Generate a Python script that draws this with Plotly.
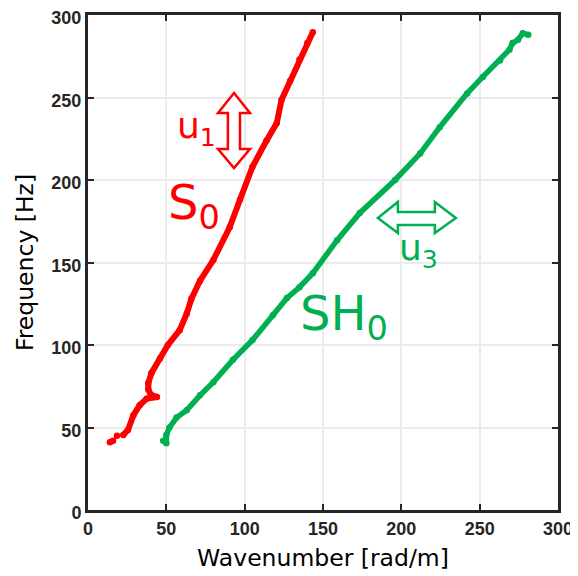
import plotly.graph_objects as go

# S0 mode (red) — wavenumber [rad/m], frequency [Hz]; None marks gaps
s0_k = [14, 16, None, 18.5, None, 22.5, 25.5, 29, 33, 37.5, 41, 44, 40, 38.5, 38.5, 40.5,
        46, 51, 58.5, 63, 66, 71.5, 80, 90.5, 97, 105, 114, 120.5, 123.5, 129, 135, 140, 143.5]
s0_f = [41, 42, None, 45, None, 45.5, 48.5, 57.5, 63.5, 67.5, 68.5, 68.5, 70, 73, 77, 83,
        92, 100, 109, 119, 128, 139, 151.5, 171.5, 188, 208, 224, 234.5, 248.5, 260, 273, 283, 289.5]

# SH0 mode (green)
sh0_k = [48, 50, 50, 52, 56.5, 63, 71.5, 80, 92.5, 105, 118, 127, 135, 143.5, 159, 173.5,
         196, 212, 224.5, 242, 252, 263, 269, 271, 274.5, 277.5, 281]
sh0_f = [42, 40.5, 45.5, 50, 56, 60.5, 69.5, 77.5, 91, 103, 118, 128.5, 135, 143.5, 163.5, 180,
         200, 216, 232, 252.5, 262.5, 272.5, 279, 283, 285, 289, 288]

x_ticks = [0, 50, 100, 150, 200, 250, 300]
y_ticks = [0, 50, 100, 150, 200, 250, 300]

RED = "#ff0000"
GREEN = "#00b050"
AX = "#262626"

fig = go.Figure()
fig.add_trace(go.Scatter(x=s0_k, y=s0_f, mode="lines+markers",
                         line=dict(color=RED, width=6), marker=dict(color=RED, size=6.5),
                         connectgaps=False, showlegend=False))
fig.add_trace(go.Scatter(x=sh0_k, y=sh0_f, mode="lines+markers",
                         line=dict(color=GREEN, width=5.5), marker=dict(color=GREEN, size=6.5),
                         showlegend=False))

# hollow double arrows
u1_path = ("M 93.2 252.7 L 103.4 240.6 L 97 240.6 L 97 218.8 L 103.4 218.8 L 93.2 207.3 "
           "L 83 218.8 L 89.3 218.8 L 89.3 240.6 L 83 240.6 Z")
u3_path = ("M 185 177 L 197.8 186.7 L 197.8 180.6 L 221.4 180.6 L 221.4 186.7 L 234.8 177 "
           "L 221.4 167.9 L 221.4 172.7 L 197.8 172.7 L 197.8 167.9 Z")
fig.add_shape(type="path", path=u1_path, line=dict(color=RED, width=2.5), fillcolor="white",
              xref="x", yref="y", layer="above")
fig.add_shape(type="path", path=u3_path, line=dict(color=GREEN, width=2.5), fillcolor="white",
              xref="x", yref="y", layer="above")

tf = "DejaVu Sans"
fig.add_annotation(x=67.5, y=184.5, text="S<sub>0</sub>", showarrow=False,
                   font=dict(family=tf, size=48, color=RED))
fig.add_annotation(x=69, y=231, text="u<sub>1</sub>", showarrow=False,
                   font=dict(family=tf, size=36, color=RED))
fig.add_annotation(x=163.5, y=117.5, text="SH<sub>0</sub>", showarrow=False,
                   font=dict(family=tf, size=48, color=GREEN))
fig.add_annotation(x=211, y=157.5, text="u<sub>3</sub>", showarrow=False,
                   font=dict(family=tf, size=36, color=GREEN))

axis_common = dict(showline=True, linecolor=AX, linewidth=3, mirror="ticks",
                   ticks="inside", ticklen=6, tickwidth=2, tickcolor=AX,
                   showgrid=True, gridcolor="#ebebeb", gridwidth=2, zeroline=False,
                   automargin=False, ticklabeloverflow="allow",
                   tickfont=dict(family="Liberation Sans", size=18, color=AX, weight="bold"),
                   title_font=dict(family=tf, size=23.5, color="#000000"))

fig.update_xaxes(range=[0, 300], tickvals=x_ticks, ticktext=[str(v) for v in x_ticks],
                 title_text="Wavenumber [rad/m]", title_standoff=12, **axis_common)
fig.update_yaxes(range=[0, 300], tickvals=y_ticks, ticktext=[str(v) for v in y_ticks],
                 title_text="Frequency [Hz]", title_standoff=12, ticklabelshift=3,
                 **axis_common)

# the page body has an 8px margin, so the figure is shifted by 8px right and down
fig.update_layout(width=570, height=568, margin=dict(l=80, r=20, t=7, b=66),
                  plot_bgcolor="white", paper_bgcolor="white")

fig.write_html("out.html")
